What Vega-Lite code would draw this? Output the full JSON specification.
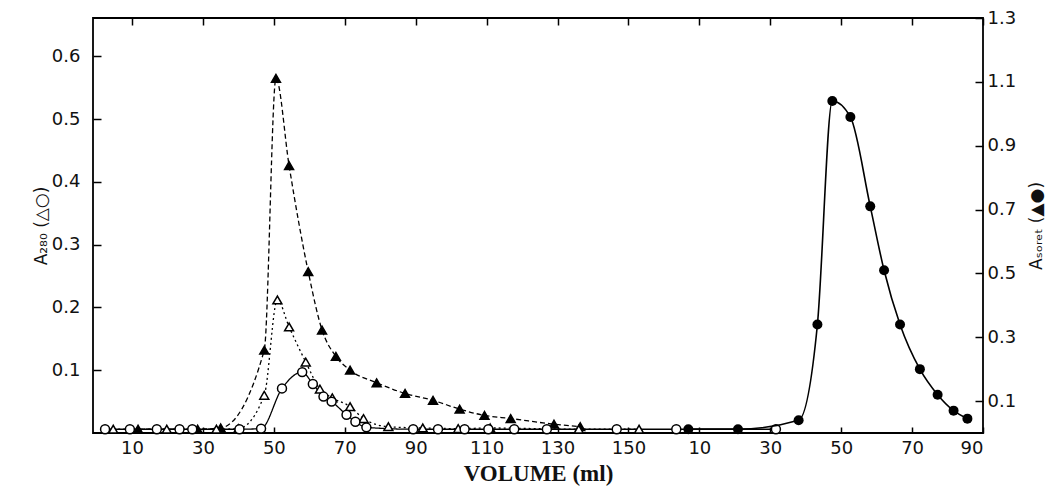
{
  "$schema": "https://vega.github.io/schema/vega-lite/v6.json",
  "autosize": {"type": "none"},
  "padding": {"left": 93, "top": 18, "right": 79, "bottom": 57},
  "width": 890,
  "height": 415,
  "background": "white",
  "config": {
    "view": {"stroke": "black", "strokeWidth": 1.8},
    "axis": {"domainColor": "black", "tickColor": "black", "tickWidth": 1.5, "labelColor": "#111", "titleColor": "#111", "labelFont": "DejaVu Sans", "titleFont": "DejaVu Sans", "grid": false, "labelFontWeight": "normal", "titleFontWeight": "normal"}
  },
  "datasets": {
    "a280": [
      {"v": 11.7, "a": 0.006, "s": "ft"},
      {"v": 28.5, "a": 0.006, "s": "ft"},
      {"v": 35.0, "a": 0.008, "s": "ft"},
      {"v": 47.3, "a": 0.132, "s": "ft"},
      {"v": 50.6, "a": 0.565, "s": "ft"},
      {"v": 54.3, "a": 0.426, "s": "ft"},
      {"v": 59.7, "a": 0.257, "s": "ft"},
      {"v": 63.6, "a": 0.164, "s": "ft"},
      {"v": 67.5, "a": 0.122, "s": "ft"},
      {"v": 71.5, "a": 0.1, "s": "ft"},
      {"v": 79.0, "a": 0.08, "s": "ft"},
      {"v": 87.0, "a": 0.063, "s": "ft"},
      {"v": 94.9, "a": 0.052, "s": "ft"},
      {"v": 102.4, "a": 0.038, "s": "ft"},
      {"v": 109.4, "a": 0.028, "s": "ft"},
      {"v": 116.8, "a": 0.023, "s": "ft"},
      {"v": 129.0, "a": 0.014, "s": "ft"},
      {"v": 136.4, "a": 0.01, "s": "ft"},
      {"v": 4.7, "a": 0.006, "s": "ot"},
      {"v": 19.8, "a": 0.006, "s": "ot"},
      {"v": 33.8, "a": 0.006, "s": "ot"},
      {"v": 40.0, "a": 0.007, "s": "ot"},
      {"v": 47.3, "a": 0.06, "s": "ot"},
      {"v": 51.0, "a": 0.212, "s": "ot"},
      {"v": 54.3, "a": 0.169, "s": "ot"},
      {"v": 59.0, "a": 0.113, "s": "ot"},
      {"v": 63.0, "a": 0.07, "s": "ot"},
      {"v": 66.5, "a": 0.056, "s": "ot"},
      {"v": 71.5, "a": 0.042, "s": "ot"},
      {"v": 75.3, "a": 0.023, "s": "ot"},
      {"v": 82.3, "a": 0.01, "s": "ot"},
      {"v": 92.0, "a": 0.008, "s": "ot"},
      {"v": 102.0, "a": 0.007, "s": "ot"},
      {"v": 111.0, "a": 0.008, "s": "ot"},
      {"v": 136.0, "a": 0.006, "s": "ot"},
      {"v": 153.0, "a": 0.006, "s": "ot"},
      {"v": 2.4, "a": 0.006, "s": "oc"},
      {"v": 9.4, "a": 0.006, "s": "oc"},
      {"v": 17.0, "a": 0.006, "s": "oc"},
      {"v": 23.4, "a": 0.006, "s": "oc"},
      {"v": 27.0, "a": 0.006, "s": "oc"},
      {"v": 40.3, "a": 0.006, "s": "oc"},
      {"v": 46.4, "a": 0.007, "s": "oc"},
      {"v": 52.3, "a": 0.071, "s": "oc"},
      {"v": 58.0, "a": 0.097, "s": "oc"},
      {"v": 61.0, "a": 0.078, "s": "oc"},
      {"v": 64.0, "a": 0.058, "s": "oc"},
      {"v": 66.3, "a": 0.05, "s": "oc"},
      {"v": 70.5, "a": 0.029, "s": "oc"},
      {"v": 73.0, "a": 0.018, "s": "oc"},
      {"v": 76.1, "a": 0.009, "s": "oc"},
      {"v": 89.3, "a": 0.006, "s": "oc"},
      {"v": 96.3, "a": 0.006, "s": "oc"},
      {"v": 103.8, "a": 0.006, "s": "oc"},
      {"v": 110.5, "a": 0.006, "s": "oc"},
      {"v": 117.8, "a": 0.006, "s": "oc"},
      {"v": 127.0, "a": 0.006, "s": "oc"},
      {"v": 146.7, "a": 0.006, "s": "oc"},
      {"v": 163.5, "a": 0.006, "s": "oc"},
      {"v": 191.6, "a": 0.006, "s": "oc"}
    ],
    "soret": [
      {"v": 166.9, "b": 0.012},
      {"v": 180.9, "b": 0.012},
      {"v": 198.0, "b": 0.04},
      {"v": 203.3, "b": 0.34},
      {"v": 207.5, "b": 1.04},
      {"v": 212.6, "b": 0.99},
      {"v": 218.2, "b": 0.71},
      {"v": 222.1, "b": 0.51},
      {"v": 226.6, "b": 0.34},
      {"v": 232.2, "b": 0.2},
      {"v": 237.2, "b": 0.12},
      {"v": 241.7, "b": 0.07},
      {"v": 245.6, "b": 0.045}
    ]
  },
  "layer": [
    {
      "data": {"name": "a280"},
      "encoding": {
        "x": {
          "field": "v", "type": "quantitative",
          "scale": {"domain": [-1, 250], "nice": false, "zero": false},
          "axis": {
            "orient": "bottom", "values": [10, 30, 50, 70, 90, 110, 130, 150, 170, 190, 210, 230, 250],
            "labelExpr": "datum.value > 160 ? format(datum.value - 160, 'd') : format(datum.value, 'd')",
            "offset": -6, "tickSize": 6, "labelPadding": 6, "labelFontSize": 18, "domain": false,
            "title": "VOLUME (ml)", "titleFont": "Liberation Serif", "titleFontWeight": "bold", "titleFontSize": 23, "titlePadding": 5
          }
        },
        "y": {
          "field": "a", "type": "quantitative",
          "scale": {"domain": [0, 0.661], "nice": false, "zero": false},
          "axis": {
            "orient": "left", "values": [0.1, 0.2, 0.3, 0.4, 0.5, 0.6], "format": ".1f",
            "offset": -8, "tickSize": 8, "labelPadding": 13, "labelFontSize": 18, "domain": false,
            "title": "A₂₈₀ (△○)", "titleFontSize": 17, "titlePadding": 1
          }
        }
      },
      "layer": [
        {
          "mark": {"type": "line", "interpolate": "monotone", "color": "black", "strokeWidth": 1.3},
          "encoding": {
            "detail": {"field": "s"},
            "strokeDash": {"field": "s", "type": "nominal", "scale": {"domain": ["ft", "ot", "oc"], "range": [[5, 3], [2, 3], [1, 0]]}, "legend": null}
          }
        },
        {
          "mark": {"type": "point", "filled": true, "stroke": "black", "strokeWidth": 1.5, "opacity": 1},
          "encoding": {
            "shape": {"field": "s", "type": "nominal", "scale": {"domain": ["ft", "ot", "oc"], "range": ["triangle-up", "triangle-up", "circle"]}, "legend": null},
            "fill": {"field": "s", "type": "nominal", "scale": {"domain": ["ft", "ot", "oc"], "range": ["black", "white", "white"]}, "legend": null},
            "size": {"value": 80}
          }
        }
      ]
    },
    {
      "data": {"name": "soret"},
      "encoding": {
        "x": {
          "field": "v", "type": "quantitative",
          "axis": {"orient": "top", "values": [10, 30, 50, 70, 90, 110, 130, 150, 170, 190, 210, 230, 250], "labels": false, "offset": -7, "tickSize": 7, "domain": false, "title": null}
        },
        "y": {
          "field": "b", "type": "quantitative",
          "scale": {"domain": [0, 1.3], "nice": false, "zero": false},
          "axis": {
            "orient": "right", "values": [0.1, 0.3, 0.5, 0.7, 0.9, 1.1, 1.3], "format": ".1f",
            "offset": -8, "tickSize": 8, "labelPadding": 4, "labelFontSize": 18, "domain": false,
            "title": "Aₛₒᵣₑₜ (▲●)", "titleFontSize": 17, "titleAngle": 270, "titlePadding": 30
          }
        }
      },
      "layer": [
        {"mark": {"type": "line", "interpolate": "monotone", "color": "black", "strokeWidth": 1.6}, "encoding": {}},
        {"mark": {"type": "circle", "color": "black", "opacity": 1, "size": 100}, "encoding": {}}
      ]
    }
  ],
  "resolve": {"scale": {"y": "independent"}, "axis": {"x": "independent"}}
}
